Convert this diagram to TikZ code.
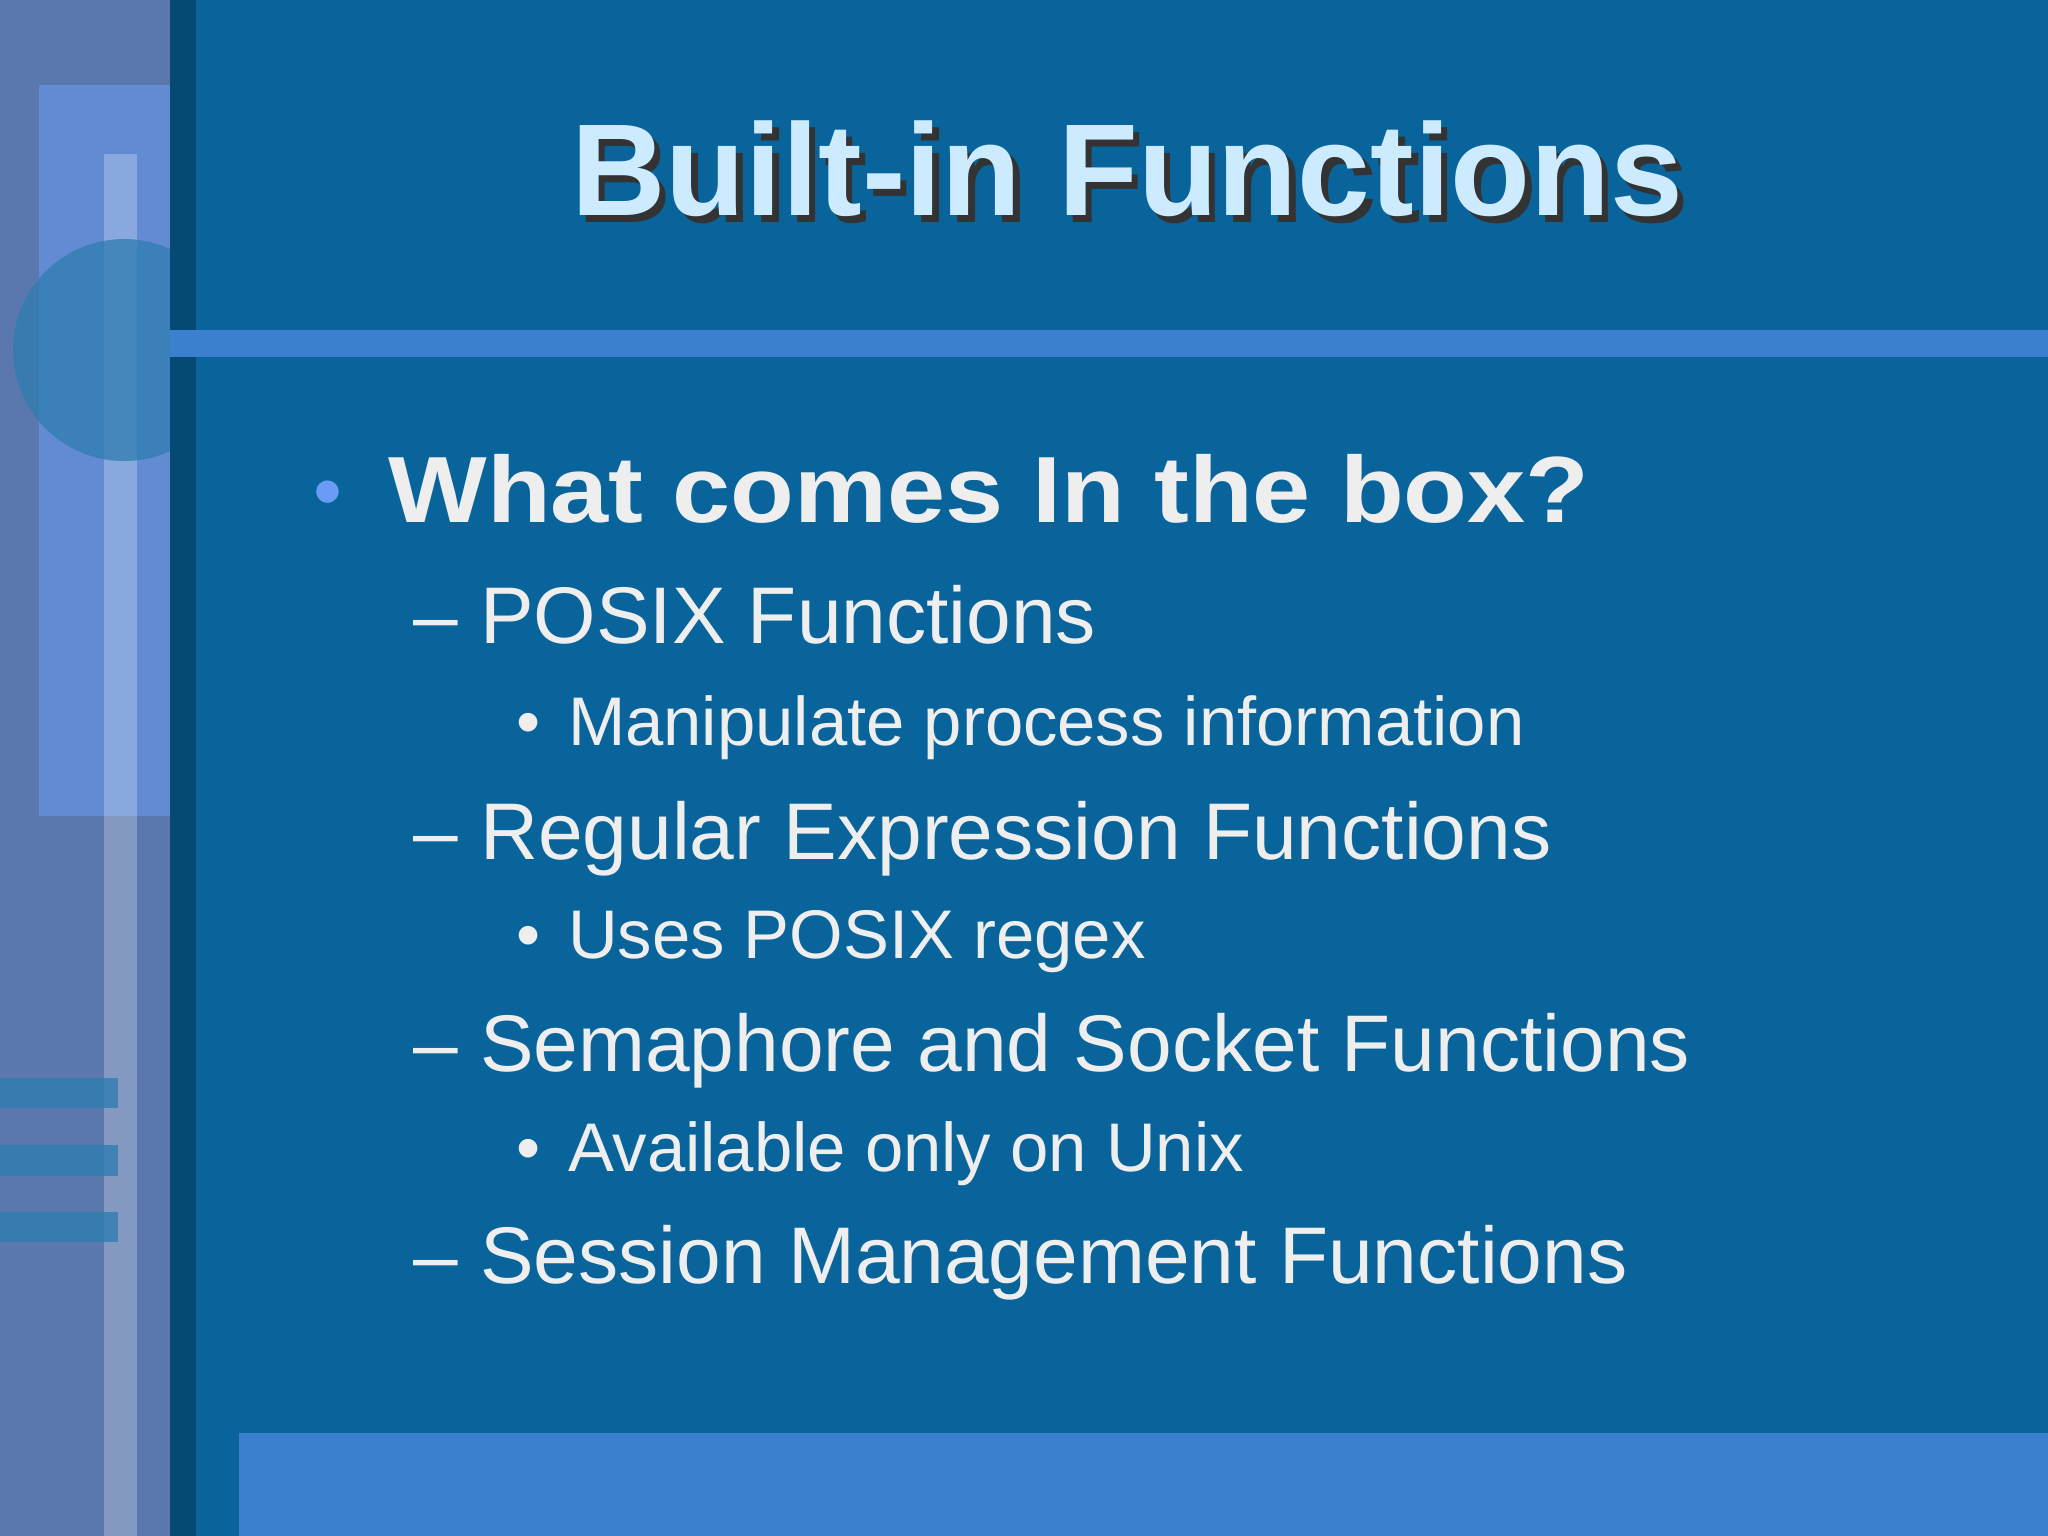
\documentclass[tikz,border=0pt]{standalone}
\usepackage{fontspec}
\setmainfont{Liberation Sans}
\definecolor{bg}{HTML}{08649A}
\definecolor{band}{HTML}{3A80CF}
\definecolor{tex}{HTML}{5A78AE}
\definecolor{txt}{HTML}{EEEEEE}
\definecolor{ttl}{HTML}{CDEBFF}
\definecolor{bul}{HTML}{6A9CF5}
\definecolor{circ}{HTML}{2F7DB0}
\tikzset{
 lvtwo/.style={anchor=base west,text=txt,inner sep=0pt,font=\fontsize{35}{40}\selectfont},
 lvthree/.style={anchor=base west,text=txt,inner sep=0pt,font=\fontsize{30}{34}\selectfont}}
\begin{document}
\begin{tikzpicture}[x=0.02cm,y=-0.02cm]
\useasboundingbox (0,0) rectangle (1568,1176);
\fill[bg] (0,0) rectangle (1568,1176);
\fill[tex] (0,0) rectangle (130,1176);
\fill[black,opacity=0.25] (130,0) rectangle (150,1176);
\fill[band] (130,253) rectangle (1568,273);
\fill[band] (183,1097) rectangle (1568,1176);
\fill[bul,opacity=0.55] (30,65) rectangle (130,625);
\fill[white,opacity=0.25] (80,118) rectangle (105,1176);
\begin{scope}
\clip (0,0) rectangle (130,1176);
\fill[circ,opacity=0.75] (95,268) circle (85);
\end{scope}
\foreach \y in {825,877,928} \fill[circ,opacity=0.8] (0,\y) rectangle (90,\y+23);
\node (tsh) [anchor=base,inner sep=0pt,text=black!80,font=\fontsize{57}{60}\selectfont\bfseries] at (868,170) {Built-in Functions};
\node (t) [anchor=base,inner sep=0pt,text=ttl,font=\fontsize{57}{60}\selectfont\bfseries] at (863,165) {Built-in Functions};
\node (b0) [anchor=base west,inner sep=0pt,text=bul,font=\fontsize{36}{40}\selectfont] at (240,398) {•};
\node (h) [anchor=base west,inner sep=0pt,text=txt,xscale=1.11,font=\fontsize{41}{44}\selectfont\bfseries] at (297,400) {What comes In the box?};
\node (a1) [lvtwo] at (316,493) {– POSIX Functions};
\node (a2) [lvthree] at (395,571) {•\hspace{12pt}Manipulate process information};
\node (a3) [lvtwo] at (316,658) {– Regular Expression Functions};
\node (a4) [lvthree] at (395,734) {•\hspace{12pt}Uses POSIX regex};
\node (a5) [lvtwo] at (316,820) {– Semaphore and Socket Functions};
\node (a6) [lvthree] at (395,897) {•\hspace{12pt}Available only on Unix};
\node (a7) [lvtwo] at (316,983) {– Session Management Functions};
\end{tikzpicture}
\end{document}
